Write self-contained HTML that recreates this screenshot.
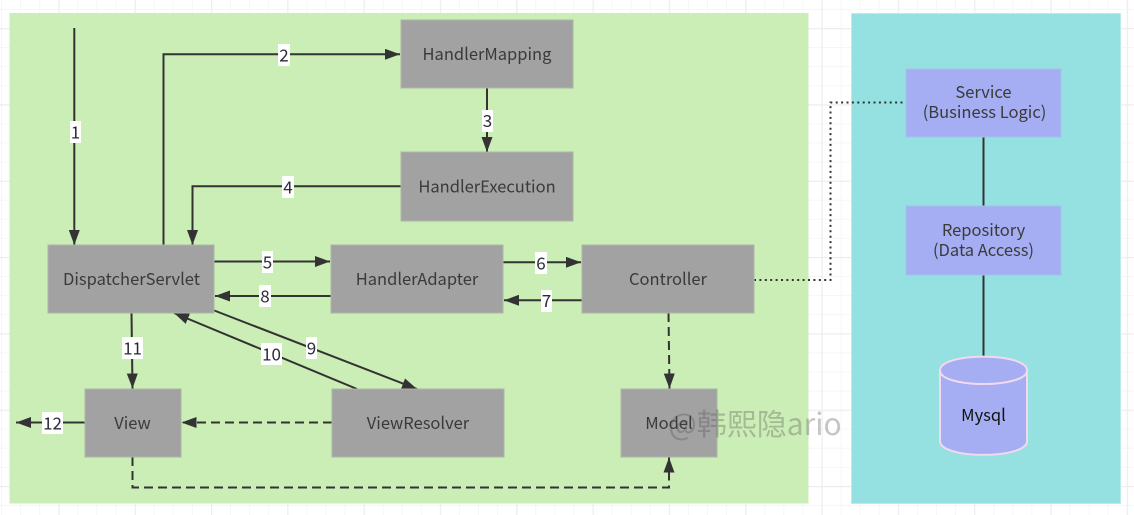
<!DOCTYPE html>
<html><head><meta charset="utf-8">
<style>
html,body{margin:0;padding:0;background:#fff}
svg{display:block}
text{font-family:"Noto Sans CJK SC","Liberation Sans",sans-serif;font-size:16.5px;fill:#3a3a3a;text-anchor:middle;dominant-baseline:central}
.e{fill:none;stroke:#333;stroke-width:2}
.a{marker-end:url(#ah)}
.d{stroke-dasharray:9 5}
.o{stroke-dasharray:2 3.4}
.n{fill:#a2a2a2;stroke:#acb5a6;stroke-width:1}
.p{fill:#a5aef2;stroke:#a4c2ee;stroke-width:1}
.l{fill:#fff;stroke:none}
.t{font-size:17px;fill:#2a2a3a}
</style></head><body>
<svg width="1134" height="515" viewBox="0 0 1134 515" xmlns="http://www.w3.org/2000/svg">
<defs>
<marker id="ah" markerUnits="userSpaceOnUse" markerWidth="16" markerHeight="12" refX="15" refY="5.5" orient="auto"><path d="M0 0L15 5.5L0 11Z" fill="#333"/></marker>
<pattern id="gm" width="19.08" height="19.08" x="1.06" y="8.9" patternUnits="userSpaceOnUse"><path d="M0 .5H19.08M.5 0V19.08" fill="none" stroke="#f6f6f6" stroke-width="1"/></pattern>
<pattern id="gM" width="76.32" height="76.32" x="58.3" y="28" patternUnits="userSpaceOnUse"><path d="M0 .5H76.32M.5 0V76.32" fill="none" stroke="#eeeeee" stroke-width="1.5"/></pattern>
</defs>
<rect width="1134" height="515" fill="#fff"/>
<rect width="1134" height="515" fill="url(#gm)"/>
<rect width="1134" height="515" fill="url(#gM)"/>
<rect x="9.5" y="13" width="799" height="490.5" fill="#cbeeb6"/>
<rect x="851.5" y="13.5" width="269" height="490" fill="#95e0e1" stroke="#b9ecec"/>

<path class="e a" d="M74.3 28V245"/>
<path class="e a" d="M163.5 245V54.3H400"/>
<path class="e a" d="M487 88V152"/>
<path class="e a" d="M401 186.3H192.5V245"/>
<path class="e a" d="M214 261.5H330"/>
<path class="e a" d="M331 296H215"/>
<path class="e a" d="M503 262.3H581"/>
<path class="e a" d="M582 300.3H504"/>
<path class="e a" d="M213 310L417 389"/>
<path class="e a" d="M357 389L174 313"/>
<path class="e a" d="M131.5 313L132.5 388.500"/>
<path class="e a" d="M85 422.500H16"/>
<path class="e a d" d="M332 422.500H181.500"/>
<path class="e a d" d="M132.500 457V487.500H669V457.500"/>
<path class="e a d" d="M668.500 313L669.500 388.500"/>
<path class="e o" d="M754 280H830.500V102.500H906"/>
<path class="e" d="M983.500 137V206M983.500 275V356"/>

<rect class="n" x="401" y="20" width="172" height="68"/><text x="487" y="53">HandlerMapping</text>
<rect class="n" x="401" y="152" width="172" height="69"/><text x="487" y="185.500">HandlerExecution</text>
<rect class="n" x="48" y="245" width="166" height="68"/><text x="131.500" y="278">DispatcherServlet</text>
<rect class="n" x="331" y="245" width="172" height="68"/><text x="417" y="278">HandlerAdapter</text>
<rect class="n" x="582" y="245" width="172" height="68"/><text x="668" y="278">Controller</text>
<rect class="n" x="85" y="389" width="96" height="68"/><text x="132.500" y="422">View</text>
<rect class="n" x="332" y="389" width="172" height="68"/><text x="418" y="422">ViewResolver</text>
<rect class="n" x="621" y="389" width="96" height="68"/><text x="669" y="422">Model</text>
<rect class="p" x="906" y="69" width="155" height="68"/><text x="983.500" y="91">Service</text><text x="984.500" y="111">(Business Logic)</text>
<rect class="p" x="906" y="206" width="155" height="69"/><text x="983.500" y="229">Repository</text><text x="983.500" y="249">(Data Access)</text>

<path d="M940 370.500C940 352 1027 352 1027 370.500V441C1027 459.500 940 459.500 940 441Z" fill="#a5aef2" stroke="#f3d9ee" stroke-width="2"/>
<path d="M940 370.500C940 388.500 1027 388.500 1027 370.500" fill="none" stroke="#f3d9ee" stroke-width="2"/>
<text x="983.500" y="414" style="fill:#111">Mysql</text>

<rect class="l" x="70" y="121" width="11" height="22"/><text class="t" x="75.500" y="131">1</text>
<rect class="l" x="278" y="44" width="12" height="22"/><text class="t" x="284" y="54">2</text>
<rect class="l" x="482" y="110" width="11" height="22"/><text class="t" x="487.500" y="119.500">3</text>
<rect class="l" x="282" y="176" width="12" height="22"/><text class="t" x="288" y="186">4</text>
<rect class="l" x="262" y="251" width="11" height="22"/><text class="t" x="267.500" y="261">5</text>
<rect class="l" x="535" y="252" width="12" height="22"/><text class="t" x="541" y="262">6</text>
<rect class="l" x="541" y="290" width="11" height="22"/><text class="t" x="546.500" y="299.500">7</text>
<rect class="l" x="259" y="285" width="12" height="22"/><text class="t" x="265" y="295">8</text>
<rect class="l" x="306" y="337" width="11" height="22"/><text class="t" x="311.500" y="347">9</text>
<rect class="l" x="261" y="343" width="21" height="22"/><text class="t" x="271.500" y="353">10</text>
<rect class="l" x="122" y="337" width="21" height="22"/><text class="t" x="132.500" y="347">11</text>
<rect class="l" x="42" y="412" width="21" height="22"/><text class="t" x="52.500" y="422">12</text>

<text x="755" y="422" style="font-size:30px;fill:#555;fill-opacity:.34">@韩熙隐ario</text>
</svg>
</body></html>
